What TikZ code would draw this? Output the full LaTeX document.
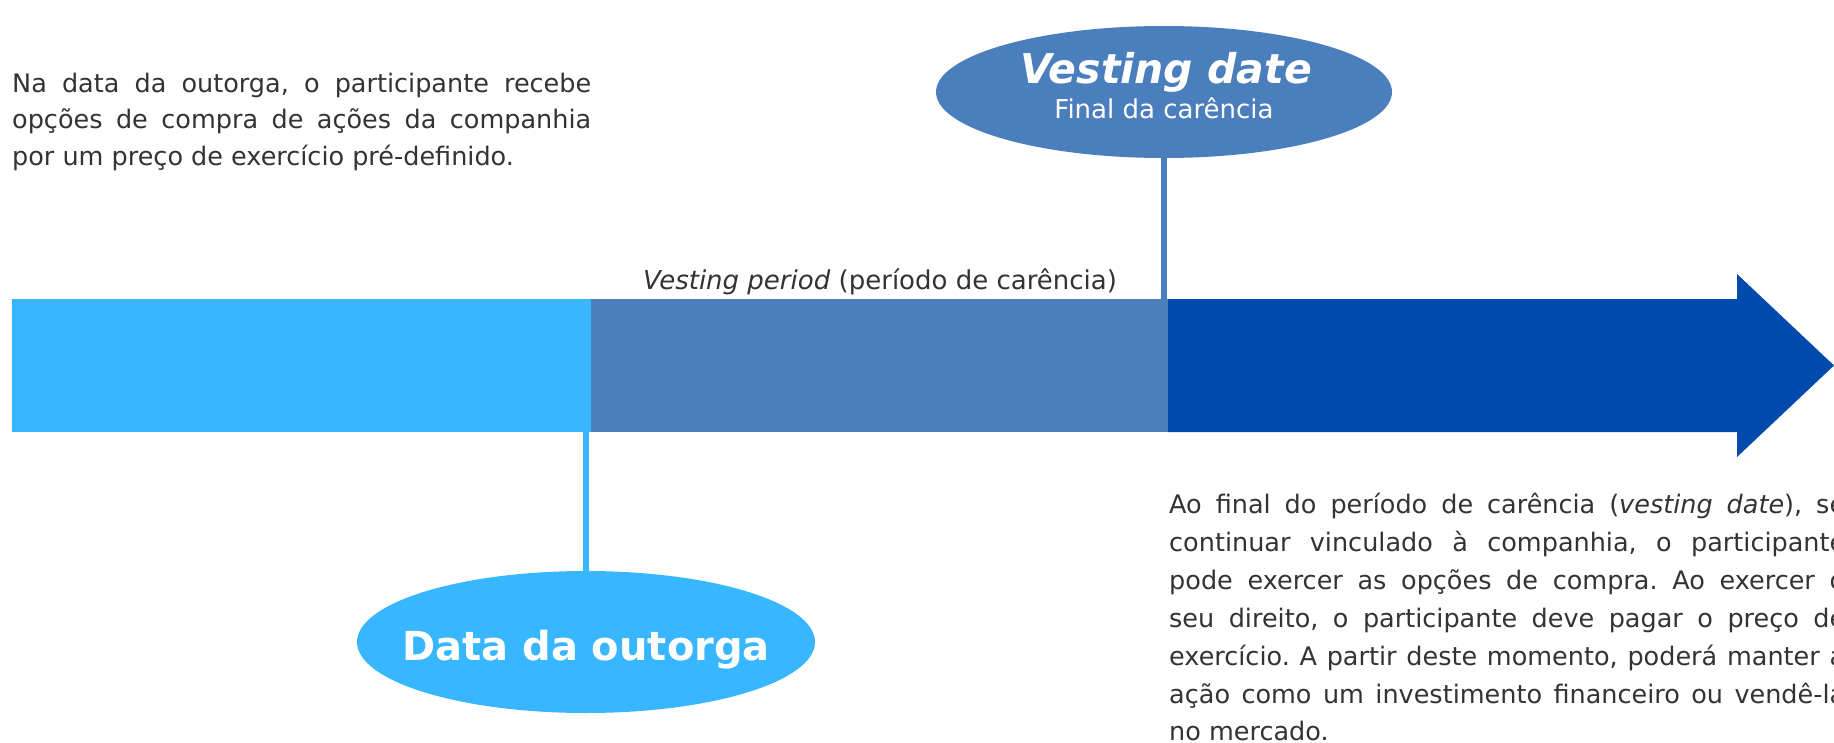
\documentclass[tikz,border=0pt]{standalone}
\usepackage{fontspec}
\setmainfont{DejaVu Sans}
\usetikzlibrary{shapes.geometric}
\definecolor{lightb}{HTML}{38B6FF}
\definecolor{midb}{HTML}{4A7EBD}
\definecolor{darkb}{HTML}{004AAD}
\definecolor{txt}{HTML}{333333}
\newcommand{\jline}[2]{\makebox[#1][s]{#2}}
\frenchspacing
\begin{document}
\begin{tikzpicture}[x=1pt,y=-1pt,
  body/.style={font=\fontsize{25.5}{30}\selectfont, text=txt, inner sep=0pt, anchor=base west},
  seg/.style={rectangle, inner sep=0pt, minimum height=133pt, anchor=north west},
  bubble/.style={ellipse, inner sep=0pt},
  bubtext/.style={text=white, inner sep=0pt, anchor=base}]
\useasboundingbox (0,0) rectangle (1834,742);
\clip (0,0) rectangle (1834,742);
\fill[white] (0,0) rectangle (1834,742);
% bar
\node[seg, fill=lightb, minimum width=579pt] (grant) at (12,299) {};
\node[seg, fill=midb, minimum width=577pt] (period) at (591,299) {};
\fill[darkb] (1168,299) -- (1737,299) -- (1737,274) -- (1834,365.5) -- (1737,457) -- (1737,432) -- (1168,432) -- cycle;
% bubbles
\node[bubble, fill=midb, minimum width=456pt, minimum height=132pt] (vest) at (1164,92) {};
\node[bubtext, font=\fontsize{41}{42}\selectfont\bfseries\itshape] (vdtitle) at (1166,83) {Vesting date};
\node[bubtext, font=\fontsize{26}{28}\selectfont] (vdsub) at (1164,118) {Final da carência};
\node[bubble, fill=lightb, minimum width=458pt, minimum height=142pt] (grantdate) at (586,642) {};
\node[bubtext, font=\fontsize{40}{48}\selectfont\bfseries] (gdtitle) at (586,660) {Data da outorga};
\draw[lightb, line width=6pt] (grantdate.north) -- (grantdate.north |- grant.south);
\draw[midb, line width=6pt] (vest.south) -- (vest.south |- period.north);
% label
\node[font=\fontsize{26}{30}\selectfont, text=txt, anchor=base, inner sep=0pt] (vplabel) at (880,289)
  {\textit{Vesting period} (período de carência)};
% left paragraph
\node[body] (a1) at (12,92) {\jline{579pt}{Na data da outorga, o participante recebe}};
\node[body] (a2) at (12,128.5) {\jline{579pt}{opções de compra de ações da companhia}};
\node[body] (a3) at (12,165) {por um preço de exercício pré-definido.};
% right paragraph
\node[body] (b1) at (1169,513) {\jline{676pt}{Ao final do período de carência (\textit{vesting date}), se}};
\node[body] (b2) at (1169,551) {\jline{676pt}{continuar vinculado à companhia, o participante}};
\node[body] (b3) at (1169,589) {\jline{676pt}{pode exercer as opções de compra. Ao exercer o}};
\node[body] (b4) at (1169,627) {\jline{676pt}{seu direito, o participante deve pagar o preço de}};
\node[body] (b5) at (1169,665) {\jline{676pt}{exercício. A partir deste momento, poderá manter a}};
\node[body] (b6) at (1169,703) {\jline{676pt}{ação como um investimento financeiro ou vendê-la}};
\node[body] (b7) at (1169,740) {no mercado.};
\end{tikzpicture}
\end{document}
